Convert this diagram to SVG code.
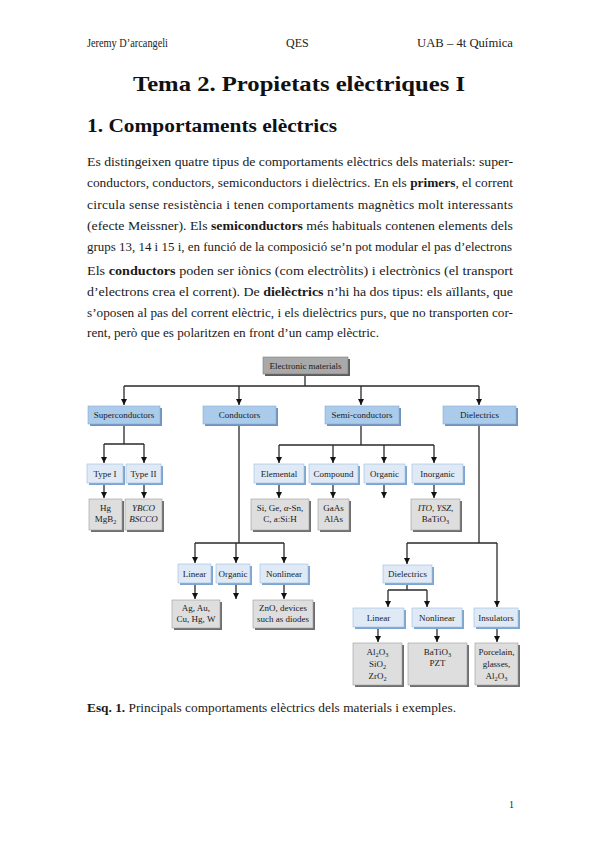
<svg xmlns="http://www.w3.org/2000/svg" width="599" height="848" viewBox="0 0 599 848">
<style>
.hd{font-family:"Liberation Serif",serif;font-size:12px;fill:#222}
.body{font-family:"Liberation Serif",serif;font-size:13.5px;fill:#1a1a1a}
.b{font-weight:bold}
.dt{font-family:"Liberation Serif",serif;font-size:9px;fill:#1a1a1a;text-anchor:middle}
.it{font-style:italic}
.sub{font-size:6.3px}
.c{fill:none;stroke:#2a2a2a;stroke-width:1.3}
.a{marker-end:url(#ah)}
.s1{fill:#6f93bd}
.f1{fill:#abcbea;stroke:#86abd3;stroke-width:0.6}
.s2{fill:#7ea5cf}
.f2{fill:#dfeaf6;stroke:#9dbde0;stroke-width:0.6}
.s3{fill:#6e6e6e}
.f3{fill:#dedede;stroke:#9a9a9a;stroke-width:0.6}
.s0{fill:#5c5c5c}
.f0{fill:#a9a9a9;stroke:#7d7d7d;stroke-width:0.6}
</style>
<defs>
<marker id="ah" markerUnits="userSpaceOnUse" markerWidth="7" markerHeight="7" refX="6" refY="3.5" orient="auto">
<path d="M0,0.5 L6,3.5 L0,6.5 z" fill="#111"/>
</marker>
</defs>
<rect width="599" height="848" fill="#fff"/>

<g id="header">
<text class="hd" x="87" y="47" textLength="81" lengthAdjust="spacingAndGlyphs">Jeremy D’arcangeli</text>
<text class="hd" x="286" y="47">QES</text>
<text class="hd" x="417" y="47" textLength="96" lengthAdjust="spacingAndGlyphs">UAB – 4t Química</text>
</g>
<text id="title" x="133" y="91" font-family="Liberation Serif, serif" font-size="21" font-weight="bold" fill="#111" textLength="332" lengthAdjust="spacingAndGlyphs">Tema 2. Propietats elèctriques I</text>
<text id="heading" x="87" y="132" font-family="Liberation Serif, serif" font-size="18.5" font-weight="bold" fill="#111" textLength="250" lengthAdjust="spacingAndGlyphs">1. Comportaments elèctrics</text>

<g id="para1">
<text class="body" x="87" y="166" textLength="426" lengthAdjust="spacingAndGlyphs">Es distingeixen quatre tipus de comportaments elèctrics dels materials: super-</text>
<text class="body" x="87" y="187" textLength="426" lengthAdjust="spacingAndGlyphs">conductors, conductors, semiconductors i dielèctrics. En els <tspan class="b">primers</tspan>, el corrent</text>
<text class="body" x="87" y="209" textLength="426" lengthAdjust="spacing">circula sense resistència i tenen comportaments magnètics molt interessants</text>
<text class="body" x="87" y="230" textLength="426" lengthAdjust="spacingAndGlyphs">(efecte Meissner). Els <tspan class="b">semiconductors</tspan> més habituals contenen elements dels</text>
<text class="body" x="87" y="251" textLength="425" lengthAdjust="spacingAndGlyphs">grups 13, 14 i 15 i, en funció de la composició se’n pot modular el pas d’electrons</text>
</g>
<g id="para2">
<text class="body" x="87" y="275" textLength="426" lengthAdjust="spacingAndGlyphs">Els <tspan class="b">conductors</tspan> poden ser iònics (com electròlits) i electrònics (el transport</text>
<text class="body" x="87" y="296" textLength="426" lengthAdjust="spacingAndGlyphs">d’electrons crea el corrent). De <tspan class="b">dielèctrics</tspan> n’hi ha dos tipus: els aïllants, que</text>
<text class="body" x="87" y="317" textLength="426" lengthAdjust="spacingAndGlyphs">s’oposen al pas del corrent elèctric, i els dielèctrics purs, que no transporten cor-</text>
<text class="body" x="87" y="337" textLength="292" lengthAdjust="spacingAndGlyphs">rent, però que es polaritzen en front d’un camp elèctric.</text>
</g>

<g id="connectors">
<path class="c" d="M305,376 V386 M124,386 H479"/>
<path class="c a" d="M124,386 V405"/>
<path class="c a" d="M239,386 V405"/>
<path class="c a" d="M361,386 V405"/>
<path class="c a" d="M479,386 V405"/>
<path class="c" d="M124,425 V444 M104,444 H144"/>
<path class="c a" d="M104,444 V463"/>
<path class="c a" d="M144,444 V463"/>
<path class="c a" d="M104,484 V498"/>
<path class="c a" d="M144,484 V498"/>
<path class="c" d="M239,425 V543 M195,543 H284"/>
<path class="c a" d="M195,543 V563"/>
<path class="c a" d="M236,543 V563"/>
<path class="c a" d="M284,543 V563"/>
<path class="c a" d="M195,584 V599"/>
<path class="c a" d="M236,584 V599"/>
<path class="c a" d="M284,584 V599"/>
<path class="c" d="M361,425 V445 M279,445 H434"/>
<path class="c a" d="M279,445 V463"/>
<path class="c a" d="M333,445 V463"/>
<path class="c a" d="M384,445 V463"/>
<path class="c a" d="M434,445 V463"/>
<path class="c a" d="M279,484 V498"/>
<path class="c a" d="M333,484 V498"/>
<path class="c a" d="M384,484 V498"/>
<path class="c a" d="M434,484 V498"/>
<path class="c" d="M479,425 V543 M407,543 H497"/>
<path class="c a" d="M407,543 V564"/>
<path class="c a" d="M497,543 V607"/>
<path class="c" d="M407,584 V590 M388,590 H427"/>
<path class="c a" d="M388,590 V607"/>
<path class="c a" d="M427,590 V607"/>
<path class="c a" d="M378,628 V642"/>
<path class="c a" d="M437,628 V642"/>
<path class="c a" d="M497,628 V642"/>
</g>

<g id="n-electronic"><rect class="s0" x="265" y="359" width="85" height="17"/><rect class="f0" x="263" y="357" width="85" height="17"/><text class="dt" x="305.5" y="368.5">Electronic materials</text></g>

<g id="n-super"><rect class="s1" x="90" y="408" width="72" height="18"/><rect class="f1" x="88" y="406" width="72" height="18"/><text class="dt" x="124" y="418">Superconductors</text></g>
<g id="n-cond"><rect class="s1" x="205" y="408" width="73" height="18"/><rect class="f1" x="203" y="406" width="73" height="18"/><text class="dt" x="239.5" y="418">Conductors</text></g>
<g id="n-semi"><rect class="s1" x="327" y="408" width="74" height="18"/><rect class="f1" x="325" y="406" width="74" height="18"/><text class="dt" x="362" y="418">Semi-conductors</text></g>
<g id="n-diel"><rect class="s1" x="445" y="408" width="73" height="18"/><rect class="f1" x="443" y="406" width="73" height="18"/><text class="dt" x="479.5" y="418">Dielectrics</text></g>

<g id="n-type1"><rect class="s2" x="89" y="466" width="36" height="19"/><rect class="f2" x="87" y="464" width="36" height="19"/><text class="dt" x="105" y="476.5">Type I</text></g>
<g id="n-type2"><rect class="s2" x="128" y="466" width="35" height="19"/><rect class="f2" x="126" y="464" width="35" height="19"/><text class="dt" x="143.5" y="476.5">Type II</text></g>
<g id="n-hg"><rect class="s3" x="91" y="501" width="33" height="31"/><rect class="f3" x="89" y="499" width="33" height="31"/><text class="dt" x="105.5" y="511">Hg</text><text class="dt" x="105.5" y="522">MgB<tspan class="sub" dy="2">2</tspan></text></g>
<g id="n-ybco"><rect class="s3" x="127" y="501" width="37" height="31"/><rect class="f3" x="125" y="499" width="37" height="31"/><text class="dt it" x="143.5" y="511">YBCO</text><text class="dt it" x="143.5" y="522">BSCCO</text></g>

<g id="n-linear"><rect class="s2" x="180" y="566" width="33" height="19"/><rect class="f2" x="178" y="564" width="33" height="19"/><text class="dt" x="194.5" y="576.5">Linear</text></g>
<g id="n-organic1"><rect class="s2" x="218" y="566" width="34" height="19"/><rect class="f2" x="216" y="564" width="34" height="19"/><text class="dt" x="233" y="576.5">Organic</text></g>
<g id="n-nonlinear1"><rect class="s2" x="262" y="566" width="48" height="19"/><rect class="f2" x="260" y="564" width="48" height="19"/><text class="dt" x="284" y="576.5">Nonlinear</text></g>
<g id="n-ag"><rect class="s3" x="174" y="602" width="48" height="28"/><rect class="f3" x="172" y="600" width="48" height="28"/><text class="dt" x="196" y="611">Ag, Au,</text><text class="dt" x="196" y="622">Cu, Hg, W</text></g>
<g id="n-zno"><rect class="s3" x="255" y="602" width="60" height="28"/><rect class="f3" x="253" y="600" width="60" height="28"/><text class="dt" x="283" y="611">ZnO, devices</text><text class="dt" x="283" y="622">such as diodes</text></g>

<g id="n-elemental"><rect class="s2" x="256" y="466" width="50" height="19"/><rect class="f2" x="254" y="464" width="50" height="19"/><text class="dt" x="279" y="476.5">Elemental</text></g>
<g id="n-compound"><rect class="s2" x="311" y="466" width="49" height="19"/><rect class="f2" x="309" y="464" width="49" height="19"/><text class="dt" x="333.5" y="476.5">Compound</text></g>
<g id="n-organic2"><rect class="s2" x="366" y="466" width="41" height="19"/><rect class="f2" x="364" y="464" width="41" height="19"/><text class="dt" x="384.5" y="476.5">Organic</text></g>
<g id="n-inorganic"><rect class="s2" x="414" y="466" width="51" height="19"/><rect class="f2" x="412" y="464" width="51" height="19"/><text class="dt" x="437.5" y="476.5">Inorganic</text></g>
<g id="n-si"><rect class="s3" x="253" y="501" width="58" height="31"/><rect class="f3" x="251" y="499" width="58" height="31"/><text class="dt" x="280" y="511">Si, Ge, <tspan class="it">α</tspan>-Sn,</text><text class="dt" x="280" y="522">C, a:Si:H</text></g>
<g id="n-gaas"><rect class="s3" x="320" y="501" width="31" height="31"/><rect class="f3" x="318" y="499" width="31" height="31"/><text class="dt" x="333.5" y="511">GaAs</text><text class="dt" x="333.5" y="522">AlAs</text></g>
<g id="n-ito"><rect class="s3" x="413" y="501" width="49" height="31"/><rect class="f3" x="411" y="499" width="49" height="31"/><text class="dt" x="435.5" y="511"><tspan class="it">ITO</tspan>, <tspan class="it">YSZ</tspan>,</text><text class="dt" x="435.5" y="522">BaTiO<tspan class="sub" dy="2">3</tspan></text></g>

<g id="n-diel2"><rect class="s2" x="385" y="567" width="49" height="18"/><rect class="f2" x="383" y="565" width="49" height="18"/><text class="dt" x="407.5" y="577">Dielectrics</text></g>
<g id="n-linear2"><rect class="s2" x="355" y="610" width="51" height="19"/><rect class="f2" x="353" y="608" width="51" height="19"/><text class="dt" x="378.5" y="620.5">Linear</text></g>
<g id="n-nonlinear2"><rect class="s2" x="414" y="610" width="50" height="19"/><rect class="f2" x="412" y="608" width="50" height="19"/><text class="dt" x="437" y="620.5">Nonlinear</text></g>
<g id="n-insul"><rect class="s2" x="476" y="610" width="44" height="19"/><rect class="f2" x="474" y="608" width="44" height="19"/><text class="dt" x="496" y="620.5">Insulators</text></g>
<g id="n-al2o3"><rect class="s3" x="355" y="645" width="49" height="42"/><rect class="f3" x="353" y="643" width="49" height="42"/><text class="dt" x="377.5" y="655">Al<tspan class="sub" dy="2">2</tspan><tspan dy="-2">O</tspan><tspan class="sub" dy="2">3</tspan></text><text class="dt" x="377.5" y="667">SiO<tspan class="sub" dy="2">2</tspan></text><text class="dt" x="377.5" y="679">ZrO<tspan class="sub" dy="2">2</tspan></text></g>
<g id="n-batio3"><rect class="s3" x="410" y="645" width="59" height="42"/><rect class="f3" x="408" y="643" width="59" height="42"/><text class="dt" x="437.5" y="655">BaTiO<tspan class="sub" dy="2">3</tspan></text><text class="dt" x="437.5" y="666">PZT</text></g>
<g id="n-porcelain"><rect class="s3" x="477" y="645" width="43" height="42"/><rect class="f3" x="475" y="643" width="43" height="42"/><text class="dt" x="496.5" y="655">Porcelain,</text><text class="dt" x="496.5" y="667">glasses,</text><text class="dt" x="496.5" y="679">Al<tspan class="sub" dy="2">2</tspan><tspan dy="-2">O</tspan><tspan class="sub" dy="2">3</tspan></text></g>

<text id="caption" class="body" x="87" y="712" textLength="369" lengthAdjust="spacingAndGlyphs"><tspan class="b">Esq. 1.</tspan> Principals comportaments elèctrics dels materials i exemples.</text>
<text id="pagenum" x="509" y="808" font-family="Liberation Serif, serif" font-size="10" fill="#222">1</text>
</svg>
